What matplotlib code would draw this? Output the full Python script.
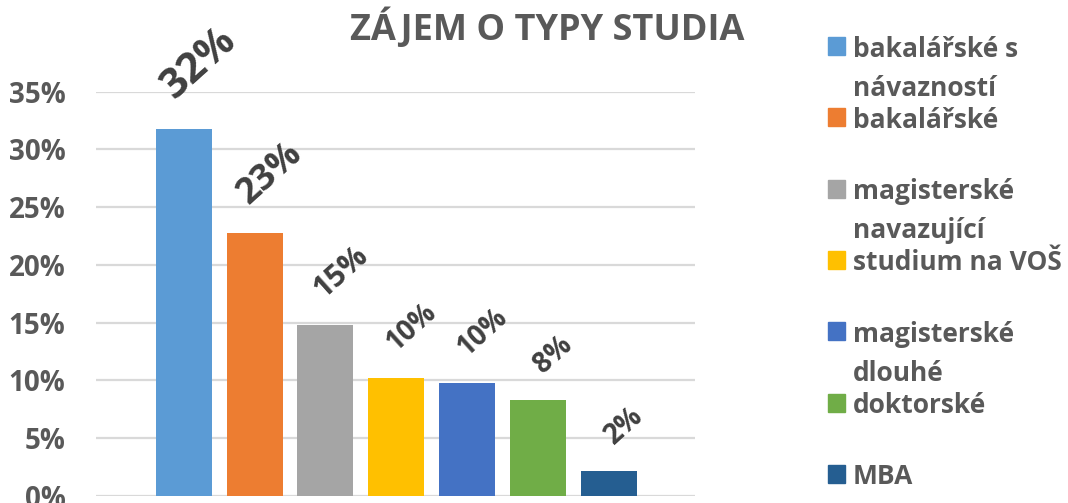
import matplotlib
matplotlib.use("Agg")
import matplotlib.pyplot as plt
from matplotlib.patches import Rectangle
from matplotlib.ticker import FuncFormatter, MultipleLocator

# ---- data ----
categories = ["bakalářské s\nnávazností", "bakalářské", "magisterské\nnavazující",
              "studium na VOŠ", "magisterské\ndlouhé", "doktorské", "MBA"]
values = [31.8, 22.8, 14.8, 10.2, 9.8, 8.3, 2.2]
value_labels = ["32%", "23%", "15%", "10%", "10%", "8%", "2%"]
label_sizes = [30, 26, 22, 20, 20, 20, 20]
colors = ["#5B9BD5", "#ED7D31", "#A5A5A5", "#FFC000", "#4472C4", "#70AD47", "#255E91"]
title = "ZÁJEM O TYPY STUDIA"

FONT = "Open Sans"
GRAY = "#595959"
DARK = "#404040"

W, H = 1068, 503
fig = plt.figure(figsize=(W / 100, H / 100), dpi=100)
ax = fig.add_axes([96 / W, 1 - 496 / H, (695 - 96) / W, (496 - 91.7) / H])

x = list(range(len(values)))
ax.bar(x, values, width=0.79, color=colors, zorder=3)
ax.set_xlim(-1.24, len(values) - 1 + 1.22)
ax.set_ylim(0, 35)
ax.yaxis.set_major_locator(MultipleLocator(5))
ax.yaxis.set_major_formatter(FuncFormatter(lambda v, p: f"{v:.0f}%"))
ax.grid(axis="y", color="#D9D9D9", linewidth=1.6, zorder=0)
ax.set_xticks([])
for s in ax.spines.values():
    s.set_visible(False)
ax.tick_params(axis="y", length=0, pad=22)
for t in ax.get_yticklabels():
    t.set_fontfamily(FONT)
    t.set_fontweight("bold")
    t.set_fontsize(20)
    t.set_color(GRAY)

for xi, v, lab, fs in zip(x, values, value_labels, label_sizes):
    ax.annotate(lab, (xi, v), xytext=(11, 15), textcoords="offset points",
                ha="center", va="bottom", rotation=42, fontsize=fs,
                fontfamily=FONT, fontweight="bold", color=DARK,
                annotation_clip=False, zorder=4)

fig.text(547 / W, 1 - 29 / H, title, ha="center", va="center",
         fontsize=26, fontfamily=FONT, fontweight="bold", color=GRAY)

# legend (manual, first line aligned with square)
y0, step, line = 46, 71.3, 39
for i, (cat, col) in enumerate(zip(categories, colors)):
    yc = y0 + i * step
    fig.patches.append(Rectangle((828 / W, 1 - (yc + 9) / H), 17 / W, 18 / H,
                                 transform=fig.transFigure, color=col))
    for j, ln in enumerate(cat.split("\n")):
        fig.text(853 / W, 1 - (yc + j * line) / H, ln, ha="left", va="center_baseline",
                 fontsize=19, fontfamily=FONT, fontweight="bold", color=GRAY)

fig.savefig("out.png", dpi=100)
